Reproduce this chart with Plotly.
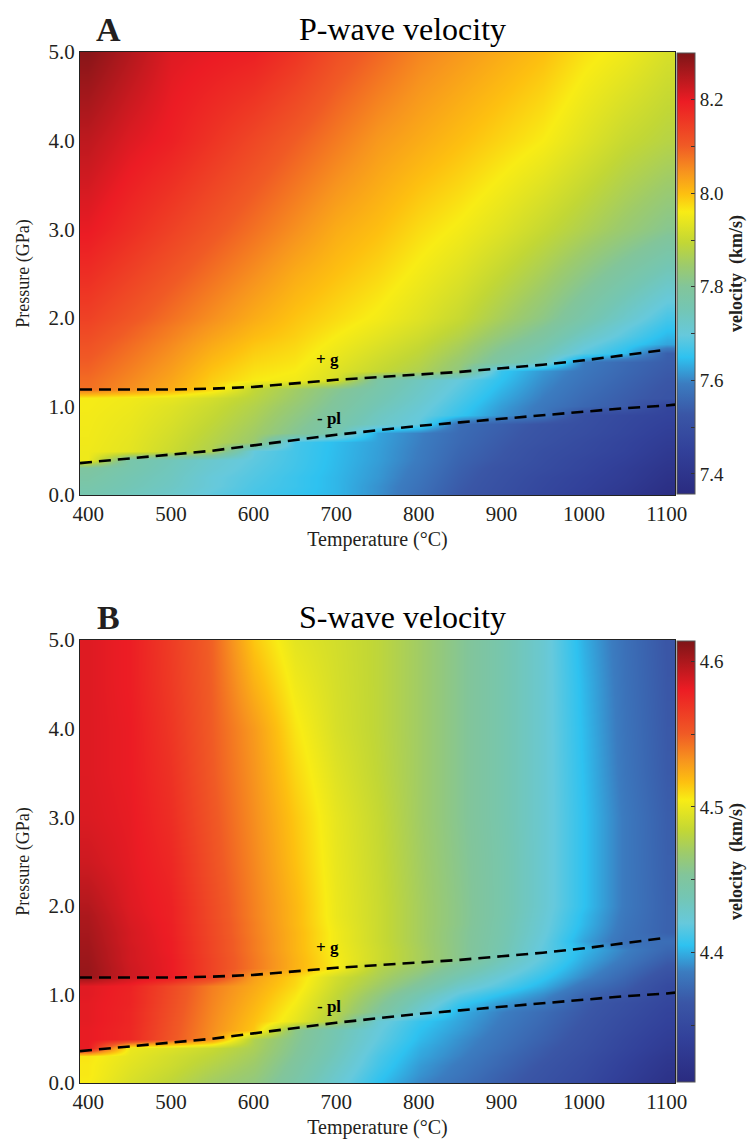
import plotly.graph_objects as go

# ---------------- data ----------------
T = [400, 450, 500, 550, 600, 650, 700, 750, 800, 850, 900, 950, 1000, 1050, 1100]
P = [0.0, 0.1, 0.2, 0.3, 0.4, 0.5, 0.6, 0.7, 0.8, 0.9, 1.0, 1.1, 1.2, 1.3, 1.4,
     1.5, 1.6, 1.7, 1.8, 1.9, 2.0, 2.5, 3.0, 3.5, 4.0, 4.5, 5.0]

VP = [
    [7.76, 7.74, 7.72, 7.69, 7.67, 7.655, 7.64, 7.61, 7.57, 7.53, 7.50, 7.47, 7.44, 7.41, 7.37],
    [7.77, 7.75, 7.73, 7.70, 7.675, 7.66, 7.64, 7.61, 7.575, 7.535, 7.505, 7.475, 7.45, 7.42, 7.38],
    [7.78, 7.755, 7.735, 7.70, 7.68, 7.66, 7.64, 7.615, 7.58, 7.54, 7.51, 7.48, 7.455, 7.43, 7.39],
    [7.79, 7.765, 7.74, 7.71, 7.685, 7.665, 7.642, 7.617, 7.585, 7.545, 7.515, 7.49, 7.465, 7.435, 7.40],
    [7.95, 7.77, 7.745, 7.715, 7.69, 7.667, 7.643, 7.62, 7.59, 7.55, 7.525, 7.495, 7.47, 7.445, 7.41],
    [7.95, 7.935, 7.905, 7.87, 7.695, 7.668, 7.644, 7.621, 7.592, 7.555, 7.53, 7.50, 7.48, 7.455, 7.42],
    [7.952, 7.937, 7.91, 7.877, 7.842, 7.67, 7.645, 7.623, 7.595, 7.56, 7.535, 7.51, 7.485, 7.46, 7.43],
    [7.953, 7.94, 7.915, 7.884, 7.85, 7.805, 7.762, 7.625, 7.597, 7.563, 7.54, 7.515, 7.495, 7.47, 7.44],
    [7.954, 7.942, 7.92, 7.891, 7.858, 7.815, 7.772, 7.725, 7.692, 7.567, 7.545, 7.52, 7.50, 7.475, 7.45],
    [7.955, 7.945, 7.925, 7.898, 7.866, 7.825, 7.783, 7.735, 7.70, 7.655, 7.612, 7.58, 7.505, 7.48, 7.46],
    [7.957, 7.948, 7.93, 7.905, 7.874, 7.835, 7.793, 7.748, 7.71, 7.665, 7.62, 7.585, 7.556, 7.536, 7.468],
    [7.958, 7.951, 7.94, 7.915, 7.884, 7.845, 7.80, 7.758, 7.72, 7.675, 7.63, 7.593, 7.563, 7.54, 7.518],
    [8.08, 8.05, 8.02, 7.98, 7.895, 7.853, 7.81, 7.768, 7.728, 7.685, 7.64, 7.60, 7.57, 7.546, 7.522],
    [8.085, 8.057, 8.027, 7.987, 7.962, 7.952, 7.92, 7.778, 7.737, 7.695, 7.65, 7.607, 7.577, 7.552, 7.528],
    [8.093, 8.064, 8.034, 7.995, 7.97, 7.96, 7.928, 7.898, 7.87, 7.825, 7.658, 7.615, 7.583, 7.558, 7.534],
    [8.10, 8.071, 8.041, 8.004, 7.978, 7.967, 7.937, 7.907, 7.88, 7.836, 7.778, 7.73, 7.59, 7.562, 7.54],
    [8.108, 8.078, 8.048, 8.013, 7.986, 7.973, 7.945, 7.917, 7.89, 7.85, 7.795, 7.75, 7.685, 7.645, 7.545],
    [8.115, 8.085, 8.055, 8.022, 7.994, 7.979, 7.953, 7.927, 7.90, 7.863, 7.813, 7.77, 7.708, 7.665, 7.625],
    [8.123, 8.093, 8.063, 8.031, 8.003, 7.985, 7.96, 7.936, 7.91, 7.876, 7.83, 7.787, 7.73, 7.685, 7.64],
    [8.131, 8.10, 8.07, 8.04, 8.011, 7.99, 7.968, 7.945, 7.92, 7.888, 7.845, 7.803, 7.75, 7.70, 7.655],
    [8.14, 8.11, 8.08, 8.05, 8.02, 7.995, 7.975, 7.955, 7.93, 7.90, 7.86, 7.82, 7.77, 7.72, 7.67],
    [8.17, 8.14, 8.11, 8.08, 8.05, 8.02, 7.998, 7.978, 7.953, 7.928, 7.895, 7.86, 7.82, 7.78, 7.74],
    [8.20, 8.17, 8.14, 8.11, 8.08, 8.05, 8.02, 8.0, 7.975, 7.955, 7.93, 7.90, 7.87, 7.84, 7.81],
    [8.22, 8.19, 8.165, 8.135, 8.105, 8.075, 8.045, 8.02, 7.997, 7.978, 7.955, 7.93, 7.90, 7.87, 7.845],
    [8.24, 8.21, 8.19, 8.16, 8.13, 8.10, 8.07, 8.04, 8.02, 8.0, 7.98, 7.96, 7.93, 7.90, 7.88],
    [8.265, 8.23, 8.20, 8.18, 8.16, 8.13, 8.095, 8.065, 8.04, 8.02, 8.0, 7.98, 7.95, 7.925, 7.90],
    [8.29, 8.25, 8.21, 8.20, 8.19, 8.16, 8.12, 8.09, 8.06, 8.04, 8.02, 8.0, 7.97, 7.95, 7.92],
]

VS = [
    [4.505, 4.492, 4.482, 4.47, 4.462, 4.445, 4.425, 4.405, 4.39, 4.38, 4.37, 4.36, 4.35, 4.335, 4.32],
    [4.506, 4.494, 4.485, 4.474, 4.465, 4.448, 4.428, 4.408, 4.393, 4.383, 4.372, 4.362, 4.352, 4.338, 4.323],
    [4.506, 4.496, 4.488, 4.478, 4.468, 4.45, 4.431, 4.411, 4.395, 4.385, 4.375, 4.364, 4.354, 4.34, 4.326],
    [4.507, 4.498, 4.49, 4.482, 4.471, 4.453, 4.434, 4.413, 4.398, 4.388, 4.377, 4.367, 4.356, 4.343, 4.329],
    [4.582, 4.50, 4.494, 4.486, 4.474, 4.455, 4.436, 4.416, 4.40, 4.39, 4.38, 4.369, 4.359, 4.346, 4.333],
    [4.582, 4.575, 4.553, 4.533, 4.476, 4.457, 4.438, 4.419, 4.403, 4.392, 4.382, 4.372, 4.361, 4.348, 4.336],
    [4.582, 4.575, 4.554, 4.534, 4.515, 4.459, 4.439, 4.421, 4.405, 4.395, 4.384, 4.374, 4.363, 4.351, 4.339],
    [4.583, 4.576, 4.555, 4.535, 4.517, 4.498, 4.475, 4.424, 4.408, 4.397, 4.386, 4.376, 4.365, 4.353, 4.342],
    [4.583, 4.576, 4.556, 4.536, 4.519, 4.501, 4.478, 4.452, 4.425, 4.40, 4.388, 4.378, 4.367, 4.356, 4.344],
    [4.583, 4.577, 4.557, 4.537, 4.521, 4.504, 4.481, 4.457, 4.432, 4.408, 4.395, 4.385, 4.369, 4.358, 4.347],
    [4.584, 4.577, 4.558, 4.538, 4.523, 4.507, 4.484, 4.463, 4.44, 4.418, 4.405, 4.392, 4.375, 4.365, 4.35],
    [4.584, 4.578, 4.559, 4.539, 4.525, 4.51, 4.487, 4.469, 4.45, 4.428, 4.415, 4.40, 4.382, 4.37, 4.352],
    [4.606, 4.59, 4.582, 4.562, 4.528, 4.512, 4.49, 4.474, 4.458, 4.438, 4.422, 4.407, 4.39, 4.375, 4.358],
    [4.606, 4.59, 4.581, 4.561, 4.541, 4.522, 4.505, 4.478, 4.465, 4.447, 4.43, 4.413, 4.395, 4.38, 4.364],
    [4.605, 4.589, 4.581, 4.561, 4.541, 4.522, 4.504, 4.488, 4.473, 4.457, 4.436, 4.418, 4.399, 4.385, 4.37],
    [4.604, 4.589, 4.58, 4.56, 4.54, 4.521, 4.503, 4.488, 4.473, 4.457, 4.44, 4.418, 4.402, 4.388, 4.375],
    [4.603, 4.588, 4.58, 4.56, 4.54, 4.521, 4.502, 4.487, 4.472, 4.457, 4.441, 4.42, 4.397, 4.38, 4.379],
    [4.602, 4.588, 4.579, 4.559, 4.539, 4.521, 4.502, 4.487, 4.472, 4.457, 4.442, 4.422, 4.40, 4.382, 4.372],
    [4.601, 4.587, 4.579, 4.559, 4.539, 4.52, 4.501, 4.487, 4.472, 4.458, 4.442, 4.423, 4.402, 4.383, 4.372],
    [4.60, 4.586, 4.578, 4.558, 4.538, 4.52, 4.50, 4.487, 4.472, 4.458, 4.443, 4.424, 4.403, 4.384, 4.372],
    [4.598, 4.585, 4.578, 4.558, 4.538, 4.52, 4.50, 4.487, 4.472, 4.458, 4.443, 4.425, 4.405, 4.385, 4.372],
    [4.59, 4.583, 4.575, 4.555, 4.536, 4.517, 4.499, 4.486, 4.471, 4.457, 4.443, 4.425, 4.405, 4.385, 4.371],
    [4.586, 4.582, 4.572, 4.553, 4.534, 4.515, 4.498, 4.485, 4.47, 4.456, 4.442, 4.425, 4.405, 4.385, 4.37],
    [4.585, 4.581, 4.57, 4.551, 4.532, 4.511, 4.495, 4.483, 4.47, 4.456, 4.442, 4.425, 4.404, 4.383, 4.368],
    [4.585, 4.581, 4.568, 4.55, 4.53, 4.507, 4.492, 4.482, 4.47, 4.456, 4.442, 4.425, 4.403, 4.382, 4.367],
    [4.585, 4.58, 4.566, 4.549, 4.522, 4.502, 4.491, 4.482, 4.47, 4.456, 4.442, 4.425, 4.402, 4.381, 4.366],
    [4.585, 4.58, 4.565, 4.548, 4.515, 4.497, 4.49, 4.482, 4.47, 4.456, 4.442, 4.425, 4.40, 4.38, 4.365],
]

# phase boundaries
G_T = [390, 450, 500, 550, 600, 650, 700, 750, 800, 850, 900, 950, 1000, 1050, 1100]
G_P = [1.19, 1.19, 1.19, 1.20, 1.22, 1.26, 1.30, 1.33, 1.36, 1.39, 1.43, 1.47, 1.52, 1.58, 1.64]
PL_T = [390, 450, 500, 550, 600, 650, 700, 750, 800, 850, 900, 950, 1000, 1050, 1100, 1110]
PL_P = [0.36, 0.41, 0.45, 0.50, 0.56, 0.62, 0.68, 0.73, 0.78, 0.82, 0.86, 0.90, 0.94, 0.98, 1.01, 1.02]

X_TICKS = [400, 500, 600, 700, 800, 900, 1000, 1100]
Y_TICKS = [0, 1, 2, 3, 4, 5]
Y_TEXT = ["0.0", "1.0", "2.0", "3.0", "4.0", "5.0"]
VP_TICKS = [7.4, 7.5, 7.6, 7.7, 7.8, 7.9, 8.0, 8.1, 8.2]
VP_TEXT = ["7.4", "", "7.6", "", "7.8", "", "8.0", "", "8.2"]
VS_TICKS = [4.35, 4.40, 4.45, 4.50, 4.55, 4.60]
VS_TEXT = ["", "4.4", "", "4.5", "", "4.6"]
VP_RANGE = [7.357, 8.30]
VS_RANGE = [4.311, 4.614]

# ---------------- style / layout (pixel geometry) ----------------
W, H = 755, 1142
L, R, TOP, BOT = 72, 667, 44, 1075          # outer plotting region in px
SERIF = "Liberation Serif, Times New Roman, serif"
INK = "#231f20"
CSCALE = [
    [0.00, "#2a2b80"], [0.10, "#32419a"], [0.18, "#3a56a6"], [0.25, "#3b7cc0"],
    [0.31, "#2ec2f0"], [0.36, "#66c9dc"], [0.42, "#74c6b3"], [0.47, "#82c59a"],
    [0.52, "#9ecb6a"], [0.57, "#c2d735"], [0.64, "#f8ec15"], [0.68, "#fdc010"],
    [0.73, "#f7941e"], [0.79, "#f05a25"], [0.89, "#ec1c24"], [1.00, "#7e1517"],
]


def fx(px):
    return (px - L) / (R - L)


def fy(py):
    return (BOT - py) / (BOT - TOP)


panels = [
    dict(z=VP, rng=VP_RANGE, tv=VP_TICKS, tt=VP_TEXT, top=44, bot=487, title="P-wave velocity",
         letter="A", ya="y", yaxis="yaxis", xa="x", xaxis="xaxis"),
    dict(z=VS, rng=VS_RANGE, tv=VS_TICKS, tt=VS_TEXT, top=632, bot=1075, title="S-wave velocity",
         letter="B", ya="y2", yaxis="yaxis2", xa="x2", xaxis="xaxis2"),
]

fig = go.Figure()
layout = dict(
    width=W, height=H, margin=dict(l=L, r=W - R, t=TOP, b=H - BOT, autoexpand=False),
    paper_bgcolor="white", plot_bgcolor="white", showlegend=False,
    font=dict(family=SERIF, color=INK, size=20),
)
annotations = []

for pn in panels:
    fig.add_trace(go.Heatmap(
        x=T, y=P, z=pn["z"], zsmooth="best", colorscale=CSCALE,
        zmin=pn["rng"][0], zmax=pn["rng"][1], xaxis=pn["xa"], yaxis=pn["ya"],
        colorbar=dict(
            x=fx(669), xanchor="left", xpad=0, y=fy(pn["top"] + 1), yanchor="top", ypad=0,
            len=(pn["bot"] - pn["top"] - 2) / (BOT - TOP), lenmode="fraction", thickness=18,
            outlinewidth=1, outlinecolor="#555555",
            tickmode="array", tickvals=pn["tv"], ticktext=pn["tt"],
            ticks="inside", ticklen=4, tickcolor="#333333",
            tickfont=dict(family=SERIF, size=19, color=INK),
            title=dict(text="<b>velocity  (km/s)</b>", side="right",
                       font=dict(family=SERIF, size=18, color=INK)),
        ),
        hoverinfo="skip",
    ))
    for bt, bp in ((G_T, G_P), (PL_T, PL_P)):
        fig.add_trace(go.Scatter(
            x=bt, y=bp, mode="lines", xaxis=pn["xa"], yaxis=pn["ya"],
            line=dict(color="black", width=2.6, dash="12px,7px"), hoverinfo="skip",
        ))
    layout[pn["xaxis"]] = dict(
        domain=[0, 1], range=[390, 1110], anchor=pn["ya"], automargin=False,
        tickmode="array", tickvals=X_TICKS, ticks="", showgrid=False, zeroline=False,
        showline=True, linecolor="#222222", linewidth=1.2, mirror=True,
        tickfont=dict(family=SERIF, size=21, color=INK),
        title=dict(text="Temperature (°C)", font=dict(family=SERIF, size=20, color=INK), standoff=6),
    )
    layout[pn["yaxis"]] = dict(
        domain=[fy(pn["bot"]), fy(pn["top"])], range=[0, 5], anchor=pn["xa"], automargin=False,
        tickmode="array", tickvals=Y_TICKS, ticktext=Y_TEXT, ticks="", showgrid=False, zeroline=False,
        showline=True, linecolor="#222222", linewidth=1.2, mirror=True,
        tickfont=dict(family=SERIF, size=21, color=INK),
        title=dict(text="Pressure (GPa)", font=dict(family=SERIF, size=18, color=INK), standoff=14),
    )
    annotations.append(dict(
        xref="paper", yref="paper", x=fx(394), y=fy(pn["top"] - 4), text=pn["title"],
        showarrow=False, font=dict(family=SERIF, size=32, color="black"),
        xanchor="center", yanchor="bottom", borderpad=0,
    ))
    annotations.append(dict(
        xref="paper", yref="paper", x=fx(100), y=fy(pn["top"] - 3), text="<b>" + pn["letter"] + "</b>",
        showarrow=False, font=dict(family=SERIF, size=34, color=INK),
        xanchor="center", yanchor="bottom", borderpad=0,
    ))
    annotations.append(dict(
        xref=pn["xa"], yref=pn["ya"], x=689, y=1.53, text="<b>+ g</b>", showarrow=False,
        font=dict(family=SERIF, size=17, color="black"), xanchor="center", yanchor="middle",
    ))
    annotations.append(dict(
        xref=pn["xa"], yref=pn["ya"], x=691, y=0.86, text="<b>- pl</b>", showarrow=False,
        font=dict(family=SERIF, size=17, color="black"), xanchor="center", yanchor="middle",
    ))

layout["annotations"] = annotations
fig.update_layout(**layout)
fig.write_html("out.html")
